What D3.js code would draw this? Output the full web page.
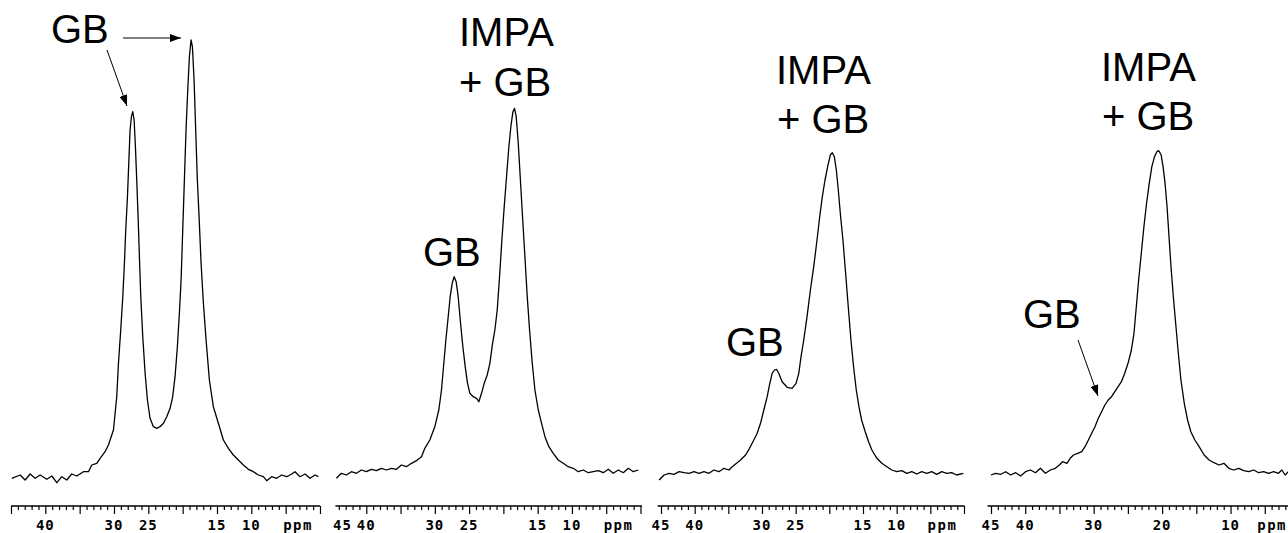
<!DOCTYPE html>
<html>
<head>
<meta charset="utf-8">
<script src="https://cdn.jsdelivr.net/npm/d3@7"></script>
<style>
  html, body { margin: 0; padding: 0; background: #fff; }
  svg { display: block; }
</style>
</head>
<body>
<svg id="chart" width="1288" height="533"></svg>
<script>
// ---- data: [ppm, intensity] ----
const spectrum1 = [[44.88,-2.3],[43.67,1.0],[42.94,-4],[42.21,2],[41.48,-2.3],[40.76,1],[39.79,-3.3],[39.06,0],[38.33,-6.7],[37.60,-0.7],[36.88,-4],[36.15,2],[35.42,0],[34.45,4.3],[33.72,4.3],[33.24,11],[32.51,12.7],[32.02,17.7],[31.30,24.3],[30.81,31],[30.08,46],[29.60,79.3],[29.35,112.7],[29.02,146],[28.72,179.3],[28.48,212.7],[28.29,246],[28.04,279.3],[27.85,312.7],[27.66,346],[27.46,359.3],[27.27,364.3],[27.07,356],[26.88,329.3],[26.69,296],[26.49,259.3],[26.30,219.3],[26.10,179.3],[25.81,139.3],[25.47,102.7],[25.13,76],[24.75,57.7],[24.26,49.3],[23.77,47.7],[23.29,49.3],[22.80,52.7],[22.32,59.3],[21.83,67.7],[21.45,79.3],[21.11,99.3],[20.77,129.3],[20.48,162.7],[20.23,196],[19.99,246],[19.75,296],[19.51,346],[19.26,386],[19.02,419.3],[18.78,436],[18.58,429.3],[18.34,396],[18.10,346],[17.86,296],[17.61,259.3],[17.32,212.7],[16.98,172.7],[16.59,136],[16.11,96],[15.53,69.3],[14.80,52.7],[14.07,36],[13.34,27.7],[12.62,21],[11.89,16],[11.16,11],[10.43,6.7],[9.70,4.3],[8.98,1],[8.25,-0.7],[7.76,-4.7],[7.04,-0.7],[6.31,-2.3],[5.58,1],[4.85,-0.7],[4.12,2],[3.64,4.3],[2.91,-0.7],[2.18,2],[1.46,-2.3],[0.73,1],[0.24,-0.7]];

const spectrum2 = [[44.36,-2.3],[43.63,2.7],[42.90,1],[42.17,4.3],[41.44,2.7],[40.71,6],[39.98,4.3],[39.25,6.7],[38.52,5.3],[37.79,7.7],[37.06,6],[36.33,7.7],[35.60,6.7],[34.87,11],[34.14,9.3],[33.41,12.7],[32.68,15.3],[31.95,19.3],[31.46,27.7],[30.73,36],[30.00,49.3],[29.42,66],[29.03,86],[28.69,112.7],[28.39,136],[28.05,159.3],[27.76,179.3],[27.47,192.7],[27.18,199.3],[26.89,194.3],[26.59,179.3],[26.25,152.7],[25.91,129.3],[25.57,109.3],[25.23,92.7],[24.89,82.7],[24.40,79.3],[23.92,77.7],[23.58,74.3],[23.19,82.7],[22.80,92.7],[22.36,101],[21.97,112.7],[21.58,132.7],[21.24,146],[20.90,166],[20.56,199.3],[20.22,236],[19.88,269.3],[19.54,299.3],[19.20,329.3],[18.91,349.3],[18.61,364.3],[18.37,367.7],[18.13,359.3],[17.83,332.7],[17.49,292.7],[17.15,252.7],[16.86,219.3],[16.52,179.3],[16.18,146],[15.79,112.7],[15.40,86],[14.91,66],[14.43,52.7],[13.94,39.3],[13.36,29.3],[12.73,22.7],[12.00,16],[11.27,12.7],[10.54,9.3],[9.81,7.7],[9.08,4.3],[8.35,6],[7.62,3.3],[6.89,4.3],[6.16,5.3],[5.43,3.3],[4.70,6.7],[3.97,2.7],[3.24,6],[2.51,3.3],[1.78,7.7],[1.05,4.3],[0.32,6]];

const spectrum3 = [[45.28,-4],[44.54,1],[43.80,2.7],[43.06,1.7],[42.32,4.3],[41.58,3.3],[40.84,2.7],[40.10,4.3],[39.36,2.7],[38.62,4.3],[37.88,2.7],[37.14,6],[36.40,4.3],[35.65,7.7],[34.91,6],[34.42,9.3],[33.78,12.7],[33.19,16],[32.44,21],[31.85,27.7],[31.21,36],[30.72,42.7],[30.22,52.7],[29.73,66],[29.23,79.3],[28.84,92.7],[28.49,102.7],[28.15,106],[27.85,106.7],[27.51,102.7],[27.01,94.3],[26.27,88.7],[25.53,87.7],[24.94,92.7],[24.54,102.7],[24.20,119.3],[23.80,136],[23.31,159.3],[22.81,186],[22.32,209.3],[21.83,236],[21.43,259.3],[21.04,279.3],[20.64,296],[20.25,309.3],[19.85,321],[19.56,323.3],[19.26,319.3],[18.96,306],[18.67,286],[18.37,262.7],[17.98,236],[17.58,202.7],[17.19,169.3],[16.79,136],[16.40,109.3],[16.00,86],[15.60,69.3],[15.21,56],[14.67,44.3],[14.17,34.3],[13.68,26],[12.94,17.7],[12.20,12.7],[11.46,9.3],[10.72,6],[9.98,4.3],[9.23,5.3],[8.49,2.7],[7.75,4.3],[7.01,2],[6.27,4.3],[5.53,2.7],[4.79,4.3],[4.05,1.7],[3.31,4.3],[2.57,2.7],[1.83,3.3],[1.09,1],[0.10,2.7]];

const spectrum4 = [[45.02,1],[44.30,2.7],[43.57,1.7],[42.85,4.3],[42.13,1],[41.40,3.3],[40.68,0],[39.95,4.3],[39.23,6],[38.50,3.3],[37.78,7.7],[37.05,2.7],[36.33,6],[35.60,7.7],[35.02,11],[34.54,14.3],[33.91,12.7],[33.43,17.7],[32.95,21],[32.32,22.7],[31.74,24.3],[31.26,29.3],[30.77,36],[30.29,42.7],[29.81,49.3],[29.32,57.7],[28.84,64.3],[28.36,71],[27.87,76],[27.39,79.3],[26.91,84.3],[26.43,89.3],[25.94,94.3],[25.46,102.7],[24.98,112.7],[24.49,126],[24.11,142.7],[23.77,169.3],[23.43,196],[23.04,222.7],[22.66,249.3],[22.27,272.7],[21.88,292.7],[21.50,309.3],[21.11,319.3],[20.77,324.3],[20.48,325.3],[20.14,321],[19.86,309.3],[19.57,292.7],[19.28,269.3],[18.99,239.3],[18.70,209.3],[18.36,179.3],[18.02,152.7],[17.63,122.7],[17.25,96],[16.76,72.7],[16.28,56],[15.80,44.3],[15.22,36],[14.59,29.3],[13.86,21],[13.14,16],[12.42,13.3],[11.69,11],[10.97,12.7],[10.24,7.7],[9.52,6],[8.79,7.7],[8.07,5.3],[7.34,4.3],[6.62,6],[5.89,3.3],[5.17,4.3],[4.44,2.7],[3.72,4.3],[3.00,2.7],[2.51,6],[2.03,1],[1.55,4.3]];

const tickLabels1 = [40, 30, 25, 15, 10];
const tickLabels2 = [45, 40, 30, 25, 15, 10];
const tickLabels3 = [45, 40, 30, 25, 15, 10];
const tickLabels4 = [45, 40, 30, 20, 10];
const unitText = "ppm";
const unitPpm = 3.2;

const notes1 = ["GB"];
const notes2 = ["IMPA", "+ GB", "GB"];
const notes3 = ["IMPA", "+ GB", "GB"];
const notes4 = ["IMPA", "+ GB", "GB"];

// ---- layout ----
const svg = d3.select("#chart");
const y = d3.scaleLinear().domain([0, 436]).range([476, 40]);
const axisY = 506;
const labelY = 529.5;

const panels = [
  { data: spectrum1, labels: tickLabels1, range: [11, 320], axisFrom: 45, axisTo: 0, clampFirst: false },
  { data: spectrum2, labels: tickLabels2, range: [332, 640.5], axisFrom: 44.5, axisTo: -0.2, clampFirst: true },
  { data: spectrum3, labels: tickLabels3, range: [661, 964], axisFrom: 45.5, axisTo: -0.1, clampFirst: false },
  { data: spectrum4, labels: tickLabels4, range: [991, 1299], axisFrom: 45.5, axisTo: -0.5, clampFirst: false }
];

svg.append("defs").append("marker")
  .attr("id", "arrow")
  .attr("markerUnits", "userSpaceOnUse")
  .attr("markerWidth", 12).attr("markerHeight", 8)
  .attr("refX", 11).attr("refY", 4)
  .attr("orient", "auto")
  .append("path").attr("d", "M0,0 L11,4 L0,8 Z").attr("fill", "#000");

panels.forEach(p => {
  const x = d3.scaleLinear().domain([45, 0]).range(p.range);
  const g = svg.append("g");

  // spectrum
  g.append("path")
    .datum(p.data)
    .attr("fill", "none")
    .attr("stroke", "#000")
    .attr("stroke-width", 1.3)
    .attr("stroke-linejoin", "round")
    .attr("d", d3.line().x(d => x(d[0])).y(d => y(d[1])));

  // axis line + ticks
  const xa = x(p.axisFrom), xb = Math.min(x(p.axisTo), 1288);
  const lo = Math.ceil(Math.max(p.axisTo, -0.5)), hi = Math.floor(p.axisFrom);
  const allTicks = d3.range(lo, hi + 1).filter(v => x(v) >= xa - 0.5 && x(v) <= xb + 0.5);
  const minor = allTicks.filter(v => v % 5 !== 0);
  const major = allTicks.filter(v => v % 5 === 0);

  const ax = g.append("g").attr("transform", `translate(0,${axisY})`);
  ax.call(d3.axisBottom(x).tickValues(minor).tickSize(4).tickFormat("").tickSizeOuter(0));
  ax.select(".domain").remove();
  const ax2 = g.append("g").attr("transform", `translate(0,${axisY})`);
  ax2.call(d3.axisBottom(x).tickValues(major).tickSize(8).tickFormat("").tickSizeOuter(0));
  ax2.select(".domain").remove();
  g.selectAll(".tick line").attr("stroke", "#000").attr("stroke-width", 1.2);
  g.append("line").attr("x1", xa).attr("x2", xb).attr("y1", axisY).attr("y2", axisY)
    .attr("stroke", "#000").attr("stroke-width", 1.6);

  // tick labels
  const lab = g.append("g")
    .attr("font-family", "'DejaVu Sans Mono', 'Liberation Mono', monospace")
    .attr("font-weight", "bold").attr("font-size", 14).attr("fill", "#000");
  p.labels.forEach((v, i) => {
    let cx = x(v);
    if (p.clampFirst && i === 0) cx = Math.max(cx, xa + 7);
    lab.append("text").attr("x", cx).attr("y", labelY).attr("text-anchor", "middle")
      .attr("letter-spacing", 1).text(String(v));
  });
  const ut = lab.append("text").attr("x", x(unitPpm)).attr("y", labelY).attr("text-anchor", "middle")
    .attr("letter-spacing", 1.5).text(unitText);
  const bb = ut.node().getBBox();
  if (bb.x + bb.width > 1287) ut.attr("x", x(unitPpm) - (bb.x + bb.width - 1287));
});

// ---- annotations ----
const ann = svg.append("g")
  .attr("font-family", "'Liberation Sans', Arial, sans-serif")
  .attr("font-size", 40).attr("fill", "#000");

function note(t, xx, yy) { ann.append("text").attr("x", xx).attr("y", yy).text(t); }
function arrow(x1, y1, x2, y2) {
  svg.append("line").attr("x1", x1).attr("y1", y1).attr("x2", x2).attr("y2", y2)
    .attr("stroke", "#000").attr("stroke-width", 1).attr("marker-end", "url(#arrow)");
}

note(notes1[0], 51, 43);
arrow(107, 50, 127, 106);
arrow(123, 38, 181, 38);

note(notes2[0], 459, 46);
note(notes2[1], 459, 96);
note(notes2[2], 423, 266);

note(notes3[0], 776, 84);
note(notes3[1], 777, 133);
note(notes3[2], 726, 356);

note(notes4[0], 1101, 81);
note(notes4[1], 1102, 130);
note(notes4[2], 1023, 328);
arrow(1078, 340, 1098, 396);
</script>
</body>
</html>
